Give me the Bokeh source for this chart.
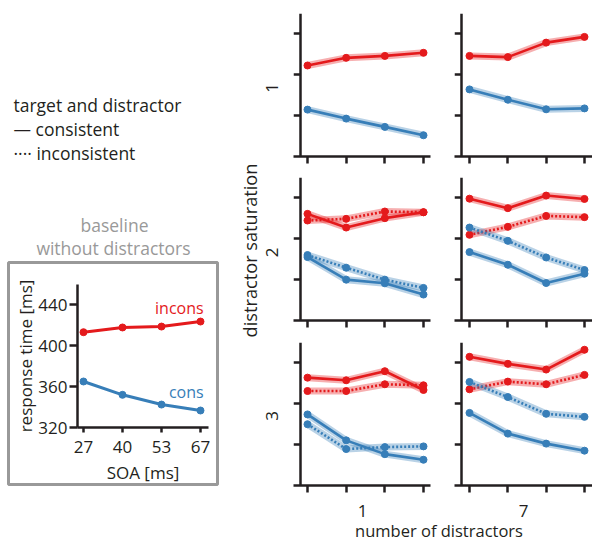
import math
from bokeh.plotting import figure
from bokeh.layouts import row, column
from bokeh.models import Range1d, FixedTicker
from bokeh.core.properties import value
from bokeh.embed import file_html
from bokeh.resources import INLINE

FONT = "Open Sans"
INK = "#231f20"
RED = "#e41a1c"
BLUE = "#377eb8"
GREY = "#999999"

# ---- data -------------------------------------------------------------
soa_labels = ["27", "40", "53", "67"]          # SOA [ms]
soa_pos = [0, 1, 2, 3]
distractor_counts = ["1", "7"]                 # panel columns
saturation_levels = ["1", "2", "3"]            # panel rows
rt_ticks = [360, 400, 440]
baseline_ticks = [320, 360, 400, 440]

# baseline without distractors, response time [ms]
baseline_incons = [413.0, 417.6, 418.5, 423.4]
baseline_cons = [364.9, 351.9, 342.4, 336.6]

# saturation 1
s1_d1_incons_consistent = [409.1, 416.6, 418.5, 421.5]
s1_d1_cons_consistent = [365.9, 357.1, 349.0, 340.8]
s1_d7_incons_consistent = [418.5, 417.3, 431.5, 437.1]
s1_d7_cons_consistent = [385.7, 375.6, 366.2, 367.1]

# saturation 2
s2_d1_incons_consistent = [424.4, 411.0, 420.2, 426.0]
s2_d1_incons_inconsistent = [417.9, 419.5, 426.7, 426.0]
s2_d1_cons_consistent = [382.1, 360.0, 356.4, 345.4]
s2_d1_cons_inconsistent = [384.1, 371.7, 360.0, 351.9]
s2_d7_incons_consistent = [439.3, 430.0, 442.3, 439.0]
s2_d7_incons_inconsistent = [403.9, 411.7, 422.4, 421.2]
s2_d7_cons_consistent = [387.0, 374.6, 356.7, 365.8]
s2_d7_cons_inconsistent = [411.0, 398.0, 381.7, 369.4]

# saturation 3
s3_d1_incons_consistent = [425.6, 423.0, 431.9, 413.5]
s3_d1_incons_inconsistent = [412.5, 412.5, 419.1, 418.1]
s3_d1_cons_consistent = [389.6, 364.2, 350.7, 345.2]
s3_d1_cons_inconsistent = [380.0, 355.7, 357.6, 358.3]
s3_d7_incons_consistent = [446.0, 439.1, 433.5, 452.9]
s3_d7_incons_inconsistent = [414.2, 421.7, 419.1, 428.3]
s3_d7_cons_consistent = [391.1, 370.8, 361.0, 354.1]
s3_d7_cons_inconsistent = [421.4, 406.6, 390.2, 387.2]

SOLID = "solid"
DOTTED = "2 2"

panel_series = [
    [  # saturation 1
        [(s1_d1_incons_consistent, RED, SOLID), (s1_d1_cons_consistent, BLUE, SOLID)],
        [(s1_d7_incons_consistent, RED, SOLID), (s1_d7_cons_consistent, BLUE, SOLID)],
    ],
    [  # saturation 2
        [(s2_d1_incons_inconsistent, RED, DOTTED), (s2_d1_incons_consistent, RED, SOLID),
         (s2_d1_cons_inconsistent, BLUE, DOTTED), (s2_d1_cons_consistent, BLUE, SOLID)],
        [(s2_d7_incons_inconsistent, RED, DOTTED), (s2_d7_incons_consistent, RED, SOLID),
         (s2_d7_cons_inconsistent, BLUE, DOTTED), (s2_d7_cons_consistent, BLUE, SOLID)],
    ],
    [  # saturation 3
        [(s3_d1_incons_inconsistent, RED, DOTTED), (s3_d1_incons_consistent, RED, SOLID),
         (s3_d1_cons_inconsistent, BLUE, DOTTED), (s3_d1_cons_consistent, BLUE, SOLID)],
        [(s3_d7_incons_inconsistent, RED, DOTTED), (s3_d7_incons_consistent, RED, SOLID),
         (s3_d7_cons_inconsistent, BLUE, DOTTED), (s3_d7_cons_consistent, BLUE, SOLID)],
    ],
]

# ---- layout geometry (pixels) ------------------------------------------
LEFT_W, STRIP_W = 230, 60
LEFT_BORDER = (8, 13)                           # inset box spans x = 8 .. 217
COL_W = [150, 152]
COL_BORDER = [(3, 10), (14, 0)]                 # (left, right) borders
COL_XRANGE = [(-0.362, 3.181), (-0.391, 3.209)]
COL_YAXIS_AT = [-0.181, -0.209]
ROW_H = [170, 165, 160]
ROW_BORDER = [(13, 14), (7, 15), (7, 10)]       # (top, bottom) borders
BOTTOM_H = 46
TOTAL_H = 541
TEXT_H = 259


def blank(w, h, x0=0, x1=None, bl=0, br=0):
    f = figure(width=w, height=h,
               x_range=Range1d(x0, w if x1 is None else x1), y_range=Range1d(0, h),
               x_axis_type=None, y_axis_type=None, output_backend="svg",
               toolbar_location=None, min_border=0,
               min_border_left=bl, min_border_right=br)
    f.outline_line_color = None
    return f


def txt(f, x, y, s, size="17px", color=INK, align="left", angle=0.0):
    f.text(x=[x], y=[y], text=[s], text_font=value(FONT), text_font_size=size,
           text_color=color, text_align=align, text_baseline="middle", angle=angle)


def style_axis(ax, tick_out):
    ax.axis_line_color = INK
    ax.axis_line_width = 2.5
    ax.major_tick_line_color = INK
    ax.major_tick_line_width = 2.5
    ax.major_tick_in = 0
    ax.major_tick_out = tick_out
    ax.minor_tick_line_color = None


# ---- legend and inset title --------------------------------------------
# frame shares the inset's left/right borders, so x data units are pixels
legend_fig = blank(LEFT_W, TEXT_H, x0=LEFT_BORDER[0], x1=LEFT_W - LEFT_BORDER[1],
                   bl=LEFT_BORDER[0], br=LEFT_BORDER[1])
txt(legend_fig, 13, TEXT_H - 104, "target and distractor", size="17.5px")
txt(legend_fig, 13, TEXT_H - 128, "\u2014 consistent", size="17.5px")
txt(legend_fig, 13, TEXT_H - 152, "\u00b7\u00b7\u00b7\u00b7 inconsistent", size="17.5px")
txt(legend_fig, 114, TEXT_H - 224, "baseline", size="17.5px", color=GREY, align="center")
txt(legend_fig, 113, TEXT_H - 247, "without distractors", size="17.5px", color=GREY,
    align="center")

# ---- baseline inset ------------------------------------------------------
inset = figure(width=LEFT_W, height=TOTAL_H - TEXT_H,
               x_range=Range1d(-1.923, 3.436), y_range=Range1d(264.4, 481.0),
               output_backend="svg", toolbar_location=None,
               min_border_left=LEFT_BORDER[0], min_border_right=LEFT_BORDER[1],
               min_border_top=3, min_border_bottom=57)
inset.outline_line_color = GREY
inset.outline_line_width = 3
inset.grid.visible = False
for ax in inset.yaxis:
    style_axis(ax, 8)
    ax.fixed_location = -0.154
    ax.bounds = (320, 460)
    ax.ticker = FixedTicker(ticks=baseline_ticks)
    ax.major_label_standoff = 2
    ax.axis_label = "response time [ms]"
    ax.axis_label_standoff = -2
for ax in inset.xaxis:
    style_axis(ax, 5)
    ax.fixed_location = 320
    ax.bounds = (-0.154, 3.205)
    ax.ticker = FixedTicker(ticks=soa_pos)
    ax.major_label_overrides = {i: s for i, s in zip(soa_pos, soa_labels)}
    ax.major_label_standoff = 8
    ax.axis_label = "SOA [ms]"
    ax.axis_label_standoff = 5
for ax in inset.axis:
    ax.major_label_text_font = FONT
    ax.major_label_text_font_size = "17px"
    ax.major_label_text_color = INK
    ax.axis_label_text_font = FONT
    ax.axis_label_text_font_size = "17px"
    ax.axis_label_text_font_style = "normal"
    ax.axis_label_text_color = INK

for ys, color in [(baseline_incons, RED), (baseline_cons, BLUE)]:
    inset.line(soa_pos, ys, line_width=3, color=color)
    inset.scatter(soa_pos, ys, size=7, color=color)
inset.text(x=[3.08], y=[436.6], text=["incons"], text_font=value(FONT), text_font_size="16px",
           text_color=RED, text_align="right", text_baseline="middle")
inset.text(x=[3.08], y=[354.6], text=["cons"], text_font=value(FONT), text_font_size="16px",
           text_color=BLUE, text_align="right", text_baseline="middle")

# ---- row labels ------------------------------------------------------------
strip = blank(STRIP_W, TOTAL_H)
txt(strip, 19.5, TOTAL_H - 250, "distractor saturation", size="18.2px", align="center",
    angle=math.pi / 2)
for lab, yc in zip(saturation_levels, [87.5, 252, 415.5]):
    txt(strip, 41, TOTAL_H - yc, lab, align="center", angle=math.pi / 2)


# ---- panels ------------------------------------------------------------------
def panel(r, c):
    bl, br = COL_BORDER[c]
    bt, bb = ROW_BORDER[r]
    p = figure(width=COL_W[c], height=ROW_H[r],
               x_range=Range1d(*COL_XRANGE[c]), y_range=Range1d(320, 460),
               output_backend="svg", toolbar_location=None,
               min_border_left=bl, min_border_right=br,
               min_border_top=bt, min_border_bottom=bb)
    p.outline_line_color = None
    p.grid.visible = False
    for ax in p.yaxis:
        style_axis(ax, 7)
        ax.fixed_location = COL_YAXIS_AT[c]
        ax.ticker = FixedTicker(ticks=rt_ticks)
    for ax in p.xaxis:
        style_axis(ax, 7)
        ax.ticker = FixedTicker(ticks=soa_pos)
    for ax in p.axis:
        ax.major_label_text_font_size = "0px"
        ax.major_label_text_color = None
        ax.major_label_standoff = 0
    for ys, color, dash in panel_series[r][c]:
        p.line(soa_pos, ys, line_width=7, color=color, alpha=0.35)
        p.line(soa_pos, ys, line_width=2.6, color=color, line_dash=dash)
        p.scatter(soa_pos, ys, size=7, color=color)
    return p


panel_rows = [row(panel(r, 0), panel(r, 1)) for r in range(3)]

# ---- column labels ----------------------------------------------------------
bottom = blank(sum(COL_W), BOTTOM_H)
txt(bottom, 72, BOTTOM_H - 15, distractor_counts[0], align="center")
txt(bottom, 233, BOTTOM_H - 15, distractor_counts[1], align="center")
txt(bottom, 148.5, BOTTOM_H - 35, "number of distractors", size="16.5px", align="center")

layout = row(column(legend_fig, inset), strip, column(*panel_rows, bottom))

open("out.html", "w").write(file_html(layout, INLINE))
